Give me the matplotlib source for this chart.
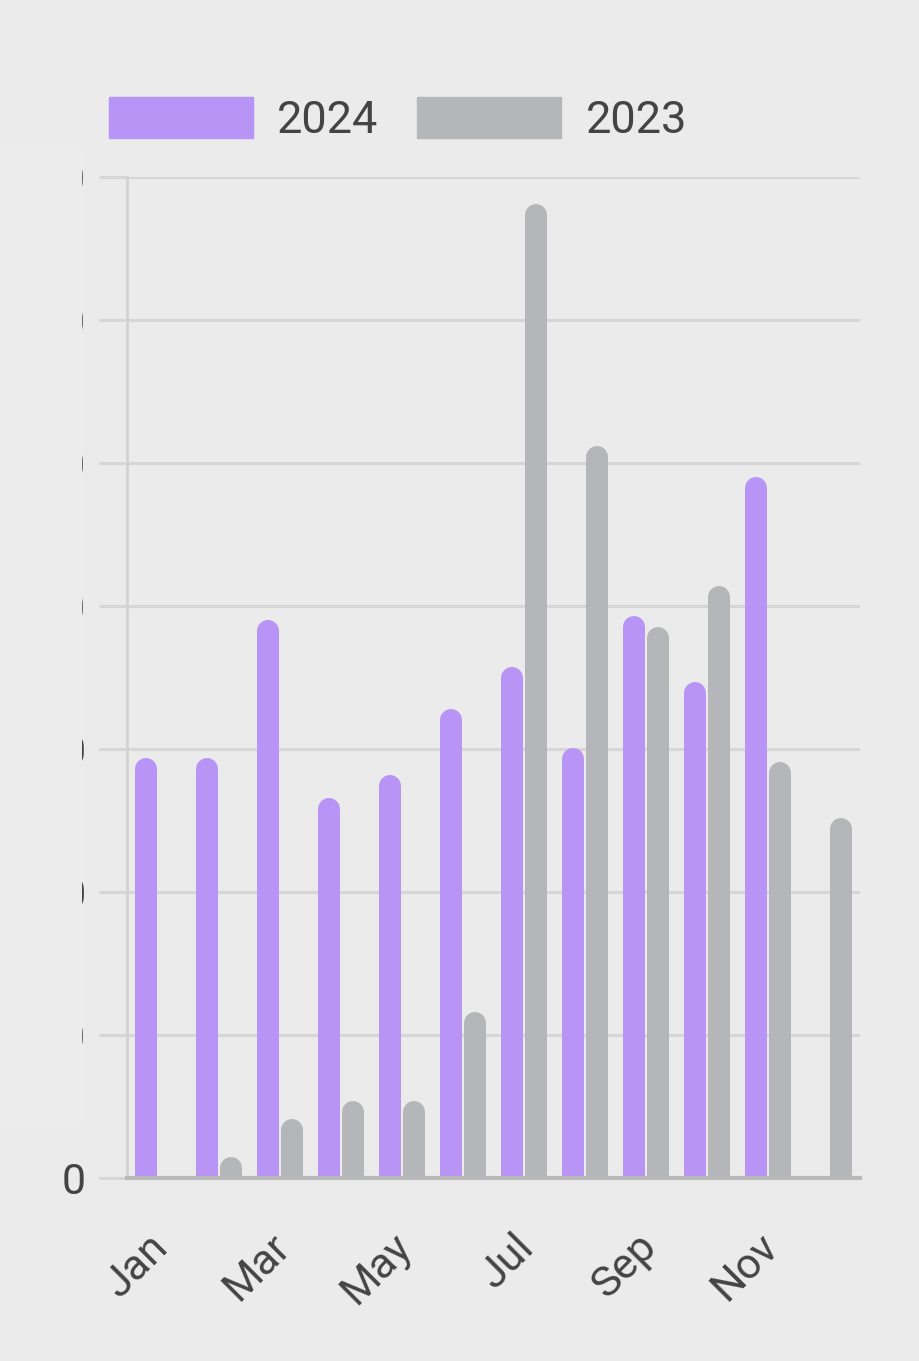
import numpy as np
import matplotlib.pyplot as plt
import matplotlib.transforms as mtransforms
from matplotlib.patches import Patch, Rectangle

# --- data ---
months = ["Jan", "Feb", "Mar", "Apr", "May", "Jun",
          "Jul", "Aug", "Sep", "Oct", "Nov", "Dec"]
sales_2024 = [29.4, 29.4, 39.0, 26.6, 28.2, 32.8, 35.7, 30.1, 39.3, 34.7, 49.0, 0]
sales_2023 = [0, 1.5, 4.1, 5.4, 5.4, 11.6, 68.1, 51.2, 38.5, 41.4, 29.1, 25.2]
y_ticks = [0, 10, 20, 30, 40, 50, 60, 70]

BG = "#ebebeb"
PURPLE = "#b794f6"
GRAY = "#b4b6b9"
GRID = "#d6d6d6"
TEXT = "#444444"

W, H, DPI = 919, 1361, 100
plt.rcParams["font.family"] = ["Roboto", "DejaVu Sans"]

fig = plt.figure(figsize=(W / DPI, H / DPI), dpi=DPI, facecolor=BG)
# axes in pixel terms: left 127, right 860, top 177, bottom 1178
ax = fig.add_axes([127 / W, 1 - 1178 / H, (860 - 127) / W, (1178 - 177) / H])
ax.set_facecolor(BG)
ax.set_xlim(-0.5, 11.5)
ax.set_ylim(0, 70)

x = np.arange(len(months))
off = 0.197
bar_px = 22
lw_pt = bar_px * 72 / DPI
# rounded top: shorten by radius (in data units)
px_per_unit = (1178 - 177) / 70
r = (bar_px / 2) / px_per_unit


def rounded_bars(xs, vals, color):
    xs = np.asarray(xs)
    vals = np.asarray(vals, dtype=float)
    m = vals > 0
    ax.vlines(xs[m], -r * 2, vals[m] - r, colors=color, linewidth=lw_pt,
              capstyle="round", zorder=3)


rounded_bars(x - off, sales_2024, PURPLE)
rounded_bars(x + off, sales_2023, GRAY)

# grid / axes styling
ax.set_yticks(y_ticks)
ax.set_yticklabels([str(v) for v in y_ticks])
ax.grid(axis="y", color=GRID, linewidth=2.2, zorder=0)
ax.tick_params(axis="y", length=28 * 72 / DPI, width=2.2, color=GRID,
               pad=13 * 72 / DPI, labelsize=31, labelcolor=TEXT)
for s in ["top", "right"]:
    ax.spines[s].set_visible(False)
ax.spines["left"].set_color("#d2d2d2")
ax.spines["left"].set_linewidth(2)
ax.spines["bottom"].set_color("#b9b9b9")
ax.spines["bottom"].set_linewidth(3)
ax.spines["bottom"].set_zorder(4)

ax.set_xticks(x[::2])
ax.set_xticklabels(months[::2])
ax.tick_params(axis="x", length=0, pad=45, labelsize=31, labelcolor=TEXT)
shift = mtransforms.ScaledTranslation(4 / DPI, 0, fig.dpi_scale_trans)
for lab in ax.get_xticklabels():
    lab.set_rotation(45)
    lab.set_rotation_mode("anchor")
    lab.set_ha("right")
    lab.set_va("center")
    lab.set_transform(lab.get_transform() + shift)

# panel that hides the y tick labels (all but the bottom one)
fig.add_artist(Rectangle((0, 1 - 1123 / H), 82 / W, (1123 - 147) / H,
                         transform=fig.transFigure, facecolor="#ececec",
                         edgecolor="none", zorder=10))

handles = [Patch(facecolor=PURPLE, edgecolor=PURPLE, label="2024"),
           Patch(facecolor=GRAY, edgecolor=GRAY, label="2023")]
fig.legend(handles=handles, loc="upper left",
           bbox_to_anchor=(109 / W, 1 - 97 / H), ncol=2, frameon=False,
           fontsize=32.5, labelcolor=TEXT, handlelength=3.18, handleheight=1.03,
           handletextpad=0.55, columnspacing=0.85, borderpad=0, borderaxespad=0)

fig.savefig("out.png", dpi=DPI, facecolor=BG)
